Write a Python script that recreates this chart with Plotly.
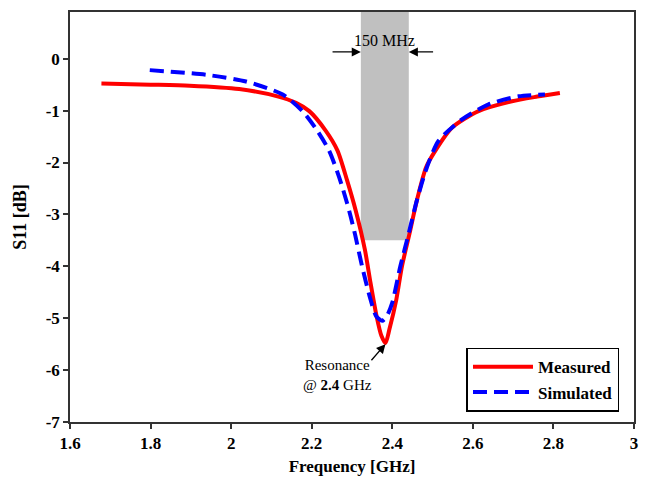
import plotly.graph_objects as go

# Return loss of the antenna, S11 in dB versus frequency in GHz
meas_f = [1.678, 1.80, 1.897, 2.02, 2.115, 2.161, 2.194, 2.235, 2.264, 2.288, 2.309,
          2.332, 2.346, 2.361, 2.373, 2.383, 2.393, 2.410, 2.424, 2.443, 2.461, 2.484,
          2.507, 2.548, 2.614, 2.697, 2.760, 2.816]
meas_s11 = [-0.48, -0.50, -0.52, -0.585, -0.725, -0.85, -1.01, -1.39, -1.77, -2.35, -2.92,
            -3.68, -4.32, -4.96, -5.34, -5.48, -5.21, -4.64, -4.00, -3.36, -2.73, -2.09,
            -1.77, -1.33, -1.01, -0.82, -0.73, -0.66]

sim_f = [1.798, 1.938, 2.037, 2.128, 2.177, 2.214, 2.243, 2.268, 2.288, 2.297, 2.308, 2.325,
         2.346, 2.360, 2.375, 2.387, 2.400, 2.420, 2.441, 2.461, 2.486, 2.515, 2.573, 2.639,
         2.713, 2.779]
sim_s11 = [-0.22, -0.31, -0.44, -0.69, -1.01, -1.39, -1.77, -2.28, -2.79, -3.05, -3.40, -4.00,
           -4.64, -4.96, -5.05, -4.95, -4.70, -4.00, -3.36, -2.73, -2.09, -1.58, -1.17, -0.88,
           -0.725, -0.69]

# Bandwidth band and its label
band_start, band_stop, band_floor = 2.322, 2.441, -3.5
band_label = "150 MHz"

x_ticks = [1.6, 1.8, 2.0, 2.2, 2.4, 2.6, 2.8, 3.0]
x_labels = ["1.6", "1.8", "2", "2.2", "2.4", "2.6", "2.8", "3"]
y_ticks = [0, -1, -2, -3, -4, -5, -6, -7]
y_labels = ["0", "-1", "-2", "-3", "-4", "-5", "-6", "-7"]

serif = "Liberation Serif, Times New Roman, serif"
axis_col = "#333333"

fig = go.Figure()
fig.add_trace(go.Scatter(x=meas_f, y=meas_s11, mode="lines", name="Measured",
                         line=dict(color="#ff0000", width=4, shape="spline", smoothing=0.7)))
fig.add_trace(go.Scatter(x=sim_f, y=sim_s11, mode="lines", name="Simulated",
                         line=dict(color="#0000ff", width=4, dash="14px,7px",
                                   shape="spline", smoothing=0.7)))

fig.add_shape(type="rect", xref="x", yref="y", x0=band_start, x1=band_stop,
              y0=band_floor, y1=0.9, fillcolor="#c0c0c0", line=dict(width=0), layer="below")

arrow_y = 0.13
fig.add_annotation(x=band_start, y=arrow_y, ax=2.248, ay=arrow_y, xref="x", yref="y",
                   axref="x", ayref="y", text="", showarrow=True, arrowhead=2,
                   arrowsize=1.4, arrowwidth=1.3, arrowcolor="black")
fig.add_annotation(x=band_stop, y=arrow_y, ax=2.505, ay=arrow_y, xref="x", yref="y",
                   axref="x", ayref="y", text="", showarrow=True, arrowhead=2,
                   arrowsize=1.4, arrowwidth=1.3, arrowcolor="black")
fig.add_annotation(x=(band_start + band_stop) / 2, y=0.35, xref="x", yref="y",
                   text=band_label, showarrow=False,
                   font=dict(family=serif, size=16, color="black"))

# Resonance marker pointing at the measured minimum
fig.add_annotation(x=2.383, y=-5.50, ax=2.345, ay=-5.84, xref="x", yref="y",
                   axref="x", ayref="y", text="", showarrow=True, arrowhead=2,
                   arrowsize=1.4, arrowwidth=1.3, arrowcolor="black")
fig.add_annotation(x=2.264, y=-6.10, xref="x", yref="y",
                   text="Resonance<br>@ <b>2.4</b> GHz", showarrow=False, align="center",
                   font=dict(family=serif, size=15, color="black"))

axis_common = dict(showline=True, linecolor=axis_col, linewidth=1.5, mirror=True,
                   ticks="outside", tickcolor=axis_col, ticklen=5, tickwidth=1.5,
                   showgrid=False, zeroline=False,
                   tickfont=dict(family=serif, size=17, color="black", weight="bold"))

fig.update_xaxes(range=[1.6, 3.0], tickvals=x_ticks, ticktext=x_labels,
                 title=dict(text="<b>Frequency [GHz]</b>", standoff=8,
                            font=dict(family=serif, size=17, color="black")),
                 **axis_common)
fig.update_yaxes(range=[-7, 0.9], tickvals=y_ticks, ticktext=y_labels,
                 title=dict(text="<b>S11 [dB]</b>", standoff=14,
                            font=dict(family=serif, size=18, color="black")),
                 **axis_common)

fig.update_layout(
    width=648, height=483,
    margin=dict(l=70, r=12, t=10, b=59),
    plot_bgcolor="white", paper_bgcolor="white",
    legend=dict(x=0.703, y=0.181, xanchor="left", yanchor="top",
                bordercolor="black", borderwidth=1.5, bgcolor="white",
                font=dict(family=serif, size=17, color="black", weight="bold"),
                itemwidth=60, tracegroupgap=0),
    showlegend=True,
)

fig.write_html("out.html")
